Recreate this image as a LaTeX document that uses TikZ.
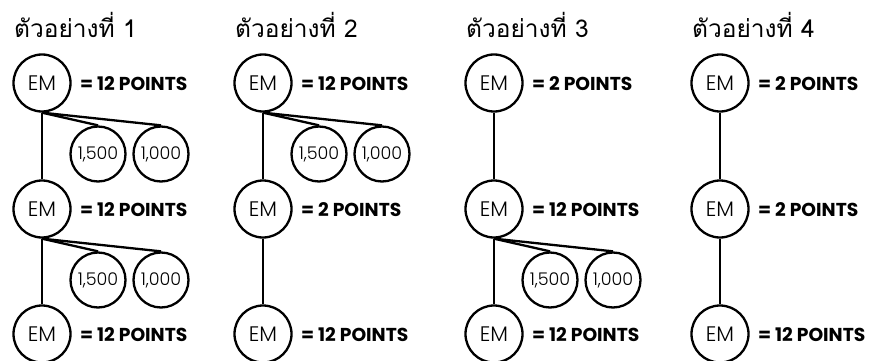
\documentclass[tikz,border=0pt]{standalone}
\usepackage{fontspec}
\setmainfont{Poppins}
\newfontfamily\thaifont[Script=Thai]{Loma}
\newfontfamily\lightfont{Poppins}[UprightFont={* Light}]
\newfontfamily\boldfont{Poppins}[UprightFont={* Bold}]
\begin{document}
\begin{tikzpicture}[x=1pt,y=-1pt,
  em/.style={circle,draw,line width=2.3pt,minimum size=57pt,inner sep=0pt,font=\lightfont\fontsize{21}{21}\selectfont},
  sm/.style={circle,draw,line width=2.3pt,minimum size=55pt,inner sep=0pt,font=\lightfont\fontsize{17.5}{17.5}\selectfont},
  pts/.style={anchor=west,inner sep=0pt,font=\boldfont\fontsize{18.7}{18.7}\selectfont},
  ttl/.style={anchor=base west,inner sep=0pt,font=\thaifont\fontsize{24.5}{24.5}\selectfont},
  ln/.style={line width=2.3pt}]
\useasboundingbox (0,0) rectangle (881,361);
% panel 1
\node[ttl] (t1) at (14,38) {ตัวอย่างที่ 1};
\node[em] (a1) at (42,83) {EM};
\node[em] (a2) at (42,209) {EM};
\node[em] (a3) at (42,334) {EM};
\node[pts] (pa1) at (80,84) {= 12 POINTS};
\node[pts] (pa2) at (80,210) {= 12 POINTS};
\node[pts] (pa3) at (80,335) {= 12 POINTS};
\node[sm] (a1s1) at (98,154) {1,500};
\node[sm] (a1s2) at (161,154) {1,000};
\node[sm] (a2s1) at (98,280) {1,500};
\node[sm] (a2s2) at (161,280) {1,000};
\draw[ln] (a1.south) -- (a2.north);
\draw[ln] (a2.south) -- (a3.north);
\draw[ln] (a1.south) -- (a1s1.north);
\draw[ln] (a1.south) -- (a1s2.north);
\draw[ln] (a2.south) -- (a2s1.north);
\draw[ln] (a2.south) -- (a2s2.north);
% panel 2
\node[ttl] (t2) at (235,38) {ตัวอย่างที่ 2};
\node[em] (b1) at (263,83) {EM};
\node[em] (b2) at (263,209) {EM};
\node[em] (b3) at (263,334) {EM};
\node[pts] (pb1) at (301,84) {= 12 POINTS};
\node[pts] (pb2) at (301,210) {= 2 POINTS};
\node[pts] (pb3) at (301,335) {= 12 POINTS};
\node[sm] (b1s1) at (319,154) {1,500};
\node[sm] (b1s2) at (382,154) {1,000};
\draw[ln] (b1.south) -- (b2.north);
\draw[ln] (b2.south) -- (b3.north);
\draw[ln] (b1.south) -- (b1s1.north);
\draw[ln] (b1.south) -- (b1s2.north);
% panel 3
\node[ttl] (t3) at (466,38) {ตัวอย่างที่ 3};
\node[em] (c1) at (494,83) {EM};
\node[em] (c2) at (494,209) {EM};
\node[em] (c3) at (494,334) {EM};
\node[pts] (pc1) at (532,84) {= 2 POINTS};
\node[pts] (pc2) at (532,210) {= 12 POINTS};
\node[pts] (pc3) at (532,335) {= 12 POINTS};
\node[sm] (c2s1) at (550,280) {1,500};
\node[sm] (c2s2) at (613,280) {1,000};
\draw[ln] (c1.south) -- (c2.north);
\draw[ln] (c2.south) -- (c3.north);
\draw[ln] (c2.south) -- (c2s1.north);
\draw[ln] (c2.south) -- (c2s2.north);
% panel 4
\node[ttl] (t4) at (692,38) {ตัวอย่างที่ 4};
\node[em] (d1) at (720,83) {EM};
\node[em] (d2) at (720,209) {EM};
\node[em] (d3) at (720,334) {EM};
\node[pts] (pd1) at (758,84) {= 2 POINTS};
\node[pts] (pd2) at (758,210) {= 2 POINTS};
\node[pts] (pd3) at (758,335) {= 12 POINTS};
\draw[ln] (d1.south) -- (d2.north);
\draw[ln] (d2.south) -- (d3.north);
\end{tikzpicture}
\end{document}
